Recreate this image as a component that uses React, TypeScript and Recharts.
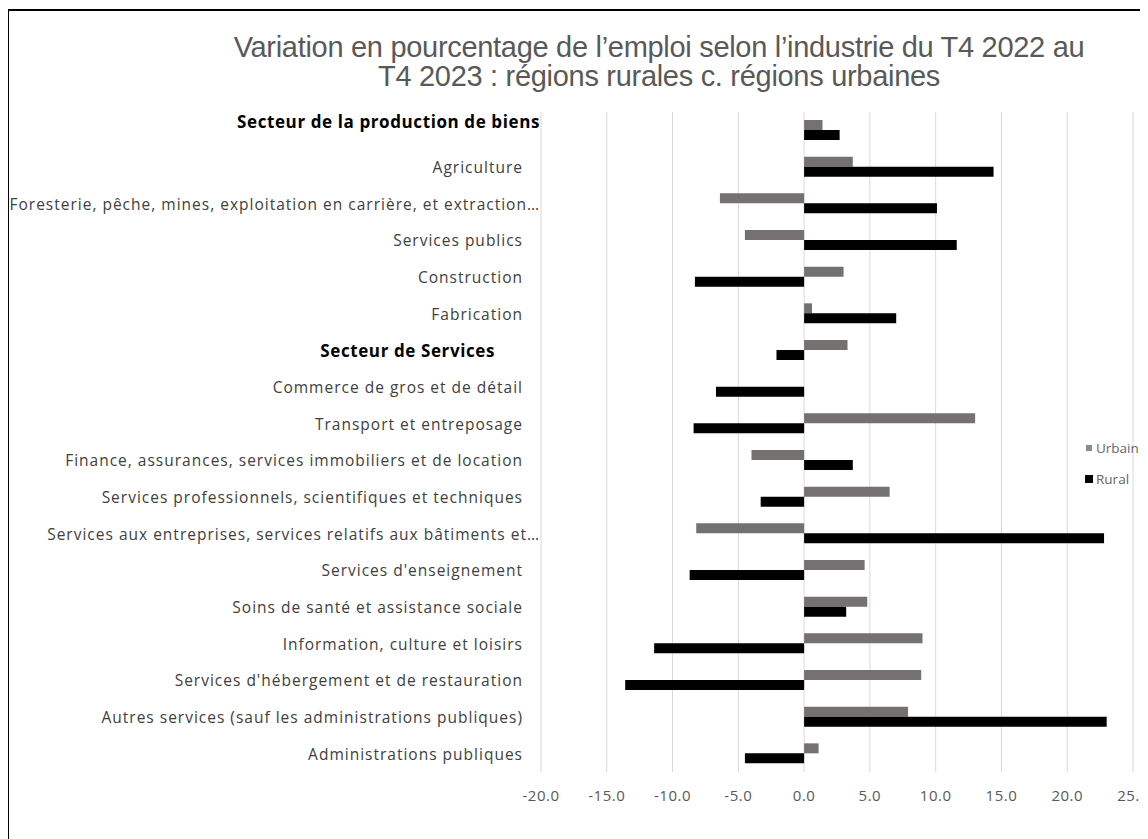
import React from "react";
import { BarChart, Bar, XAxis, YAxis, CartesianGrid } from "recharts";

const categories = [
  "Secteur de la production de biens",
  "Agriculture",
  "Foresterie, pêche, mines, exploitation en carrière, et extraction…",
  "Services publics",
  "Construction",
  "Fabrication",
  "Secteur de Services",
  "Commerce de gros et de détail",
  "Transport et entreposage",
  "Finance, assurances, services immobiliers et de location",
  "Services professionnels, scientifiques et techniques",
  "Services aux entreprises, services relatifs aux bâtiments et…",
  "Services d'enseignement",
  "Soins de santé et assistance sociale",
  "Information, culture et loisirs",
  "Services d'hébergement et de restauration",
  "Autres services (sauf les administrations publiques)",
  "Administrations publiques",
];

const urbain = [1.4, 3.7, -6.4, -4.5, 3.0, 0.6, 3.3, 0, 13.0, -4.0, 6.5, -8.2, 4.6, 4.8, 9.0, 8.9, 7.9, 1.1];
const rural = [2.7, 14.4, 10.1, 11.6, -8.3, 7.0, -2.1, -6.7, -8.4, 3.7, -3.3, 22.8, -8.7, 3.2, -11.4, -13.6, 23.0, -4.5];

const xTicks = [-20, -15, -10, -5, 0, 5, 10, 15, 20, 25];
const headers = ["Secteur de la production de biens", "Secteur de Services"];

const data = categories.map((name, i) => ({ name, Urbain: urbain[i], Rural: rural[i] }));

const URBAN = "#767171";
const RURAL = "#000000";

function CategoryTick(props: any) {
  const { x, y, payload } = props;
  const label = payload.value as string;
  if (headers.includes(label)) {
    const first = label === headers[0];
    return (
      <text
        x={x + (first ? 17 : -28)}
        y={y + (first ? -9 : 0)}
        textAnchor="end"
        dominantBaseline="central"
        fontFamily="'Open Sans', sans-serif"
        fontWeight={700}
        fontSize={17}
        letterSpacing={0.6}
        fill="#000"
      >
        {label}
      </text>
    );
  }
  // truncated labels (ending with an ellipsis) run a bit further right, as in the original
  const truncated = label.endsWith("…");
  return (
    <text
      x={x + (truncated ? 17 : 0)}
      y={y}
      textAnchor="end"
      dominantBaseline="central"
      fontFamily="'Open Sans', sans-serif"
      fontSize={15.5}
      letterSpacing={1}
      fill="#404040"
    >
      {label}
    </text>
  );
}

function LegendBox() {
  const items = [
    { label: "Urbain", color: "#8c8c8c", size: 6 },
    { label: "Rural", color: RURAL, size: 8 },
  ];
  return (
    <div
      style={{
        position: "absolute",
        left: 1076,
        top: 421,
        fontFamily: "'Open Sans', sans-serif",
        fontSize: 13.5,
        color: "#666",
      }}
    >
      {items.map((it) => (
        <div key={it.label} style={{ display: "flex", alignItems: "center", height: 31 }}>
          <span style={{ width: 8, display: "inline-flex", justifyContent: "center", marginRight: 3 }}>
            <span style={{ width: it.size, height: it.size, background: it.color, display: "inline-block" }} />
          </span>
          {it.label}
        </div>
      ))}
    </div>
  );
}

export default function App() {
  return (
    <div
      style={{
        position: "relative",
        width: 1140,
        height: 828,
        marginLeft: -1,
        marginTop: 1,
        borderLeft: "2px solid #000",
        borderTop: "2px solid #000",
        background: "#fff",
      }}
    >
      <div
        style={{
          position: "absolute",
          left: 0,
          width: 1300,
          top: 22,
          textAlign: "center",
          fontFamily: "'Liberation Sans Narrow', 'Liberation Sans', sans-serif",
          fontSize: 29,
          lineHeight: "29px",
          letterSpacing: -0.3,
          color: "#595959",
        }}
      >
        Variation en pourcentage de l’emploi selon l’industrie du T4 2022 au
        <br />
        T4 2023 : régions rurales c. régions urbaines
      </div>
      <BarChart
        width={1139}
        height={826}
        data={data}
        layout="vertical"
        margin={{ top: 101, right: 15, bottom: 35, left: 0 }}
        barSize={10}
        barGap={0}
      >
        <CartesianGrid horizontal={false} stroke="#d9d9d9" />
        <XAxis
          type="number"
          domain={[-20, 25]}
          ticks={xTicks}
          tickFormatter={(v: number) => v.toFixed(1)}
          axisLine={false}
          tickLine={false}
          tickSize={0}
          tickMargin={18}
          height={30}
          tick={{ fill: "#595959", fontSize: 15, letterSpacing: 0.5, fontFamily: "'Open Sans', sans-serif" }}
        />
        <YAxis
          type="category"
          dataKey="name"
          width={532}
          axisLine={false}
          tickLine={false}
          tickSize={0}
          tickMargin={18}
          interval={0}
          tick={<CategoryTick />}
        />
        <Bar dataKey="Urbain" fill={URBAN} isAnimationActive={false} />
        <Bar dataKey="Rural" fill={RURAL} isAnimationActive={false} />
      </BarChart>
      <LegendBox />
    </div>
  );
}
